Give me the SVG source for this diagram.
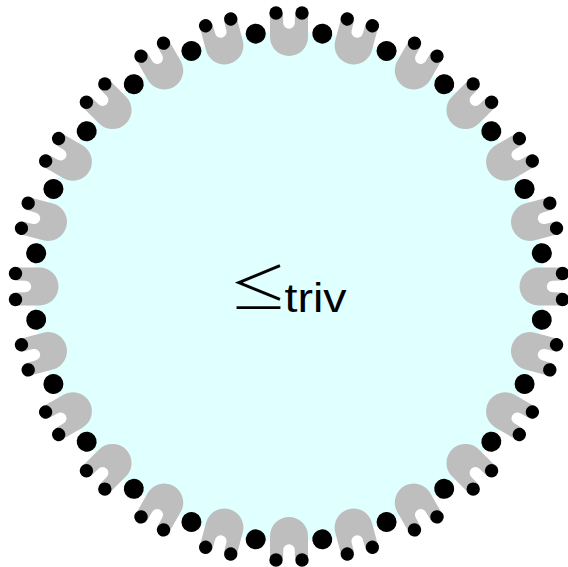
<svg xmlns="http://www.w3.org/2000/svg" width="568" height="567" viewBox="0 0 568 567">
<style>
.disc{fill:#e0ffff}
.cup{fill:#bebebe}
.dot{fill:#000}
.lbl{font-family:"Liberation Sans",Arial,sans-serif;fill:#000}
.sym{font-family:"Noto Sans CJK JP",sans-serif;font-weight:200;fill:#000}
</style>
<defs>
<g id="u">
<path class="cup" d="M -19,-273 L -19,-249.5 A 19 19 0 0 0 19,-249.5 L 19,-273 L 6,-273 L 5.8,-263.6 A 5.8 5.8 0 0 1 -5.8,-263.6 L -6,-273 Z"/>
<circle class="dot" cx="-13" cy="-273.5" r="6.7"/>
<circle class="dot" cx="13" cy="-273.5" r="6.7"/>
</g>
<circle id="bd" class="dot" cx="0" cy="-255" r="10"/>
</defs>
<g id="disc"><circle class="disc" cx="289" cy="286.5" r="255"/></g>
<g id="cups" transform="translate(289 286.5)">
<g id="u0" transform="rotate(0)"><use href="#u"/></g>
<g id="u1" transform="rotate(15)"><use href="#u"/></g>
<g id="u2" transform="rotate(30)"><use href="#u"/></g>
<g id="u3" transform="rotate(45)"><use href="#u"/></g>
<g id="u4" transform="rotate(60)"><use href="#u"/></g>
<g id="u5" transform="rotate(75)"><use href="#u"/></g>
<g id="u6" transform="rotate(90)"><use href="#u"/></g>
<g id="u7" transform="rotate(105)"><use href="#u"/></g>
<g id="u8" transform="rotate(120)"><use href="#u"/></g>
<g id="u9" transform="rotate(135)"><use href="#u"/></g>
<g id="u10" transform="rotate(150)"><use href="#u"/></g>
<g id="u11" transform="rotate(165)"><use href="#u"/></g>
<g id="u12" transform="rotate(180)"><use href="#u"/></g>
<g id="u13" transform="rotate(195)"><use href="#u"/></g>
<g id="u14" transform="rotate(210)"><use href="#u"/></g>
<g id="u15" transform="rotate(225)"><use href="#u"/></g>
<g id="u16" transform="rotate(240)"><use href="#u"/></g>
<g id="u17" transform="rotate(255)"><use href="#u"/></g>
<g id="u18" transform="rotate(270)"><use href="#u"/></g>
<g id="u19" transform="rotate(285)"><use href="#u"/></g>
<g id="u20" transform="rotate(300)"><use href="#u"/></g>
<g id="u21" transform="rotate(315)"><use href="#u"/></g>
<g id="u22" transform="rotate(330)"><use href="#u"/></g>
<g id="u23" transform="rotate(345)"><use href="#u"/></g>
</g>
<g id="bigdots" transform="translate(289 286.5)">
<use href="#bd" transform="rotate(7.5)"/>
<use href="#bd" transform="rotate(22.5)"/>
<use href="#bd" transform="rotate(37.5)"/>
<use href="#bd" transform="rotate(52.5)"/>
<use href="#bd" transform="rotate(67.5)"/>
<use href="#bd" transform="rotate(82.5)"/>
<use href="#bd" transform="rotate(97.5)"/>
<use href="#bd" transform="rotate(112.5)"/>
<use href="#bd" transform="rotate(127.5)"/>
<use href="#bd" transform="rotate(142.5)"/>
<use href="#bd" transform="rotate(157.5)"/>
<use href="#bd" transform="rotate(172.5)"/>
<use href="#bd" transform="rotate(187.5)"/>
<use href="#bd" transform="rotate(202.5)"/>
<use href="#bd" transform="rotate(217.5)"/>
<use href="#bd" transform="rotate(232.5)"/>
<use href="#bd" transform="rotate(247.5)"/>
<use href="#bd" transform="rotate(262.5)"/>
<use href="#bd" transform="rotate(277.5)"/>
<use href="#bd" transform="rotate(292.5)"/>
<use href="#bd" transform="rotate(307.5)"/>
<use href="#bd" transform="rotate(322.5)"/>
<use href="#bd" transform="rotate(337.5)"/>
<use href="#bd" transform="rotate(352.5)"/>
</g>
<g id="label">
<text class="sym" x="229" y="310.5" font-size="59">≤</text>
<text class="lbl" x="284.5" y="311.7" font-size="40" textLength="62" lengthAdjust="spacingAndGlyphs">triv</text>
</g>
</svg>
